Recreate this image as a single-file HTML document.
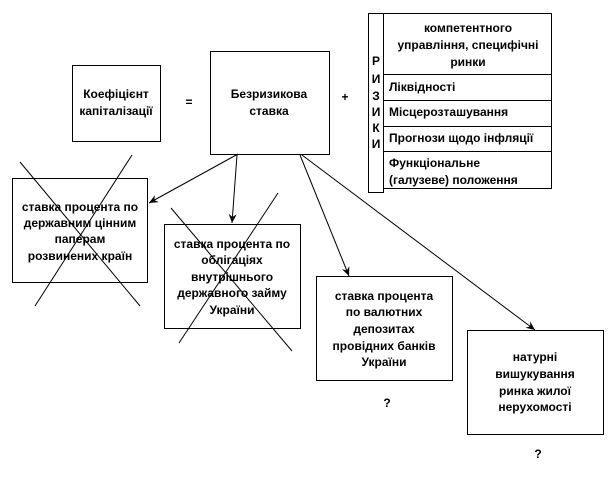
<!DOCTYPE html>
<html><head><meta charset="utf-8"><style>
html,body{margin:0;padding:0;background:#fff;}
svg{display:block;}
text{font-family:"Liberation Sans",Arial,sans-serif;font-weight:bold;font-size:12px;fill:#000;}
</style></head><body>
<svg width="612" height="477" viewBox="0 0 612 477" xmlns="http://www.w3.org/2000/svg">
<defs><marker id="a" markerWidth="10" markerHeight="10" refX="9" refY="5" orient="auto" markerUnits="userSpaceOnUse"><path d="M0,1 L9,5 L0,9 L3,5 Z" fill="#000"/></marker></defs>
<g fill="none" stroke="#000" stroke-width="1">
<rect x="72.5" y="65.5" width="88" height="76"/>
<rect x="210.5" y="51.5" width="119" height="103"/>
<rect x="368.5" y="13.5" width="15" height="179"/>
<rect x="383.5" y="13.5" width="168" height="175"/>
<line x1="384" y1="74.5" x2="552" y2="74.5"/>
<line x1="384" y1="100.5" x2="552" y2="100.5"/>
<line x1="384" y1="126.5" x2="552" y2="126.5"/>
<line x1="384" y1="151.5" x2="552" y2="151.5"/>
<rect x="12.5" y="178.5" width="135" height="104"/>
<rect x="164.5" y="224.5" width="136" height="104"/>
<rect x="316.5" y="276.5" width="136" height="104"/>
<rect x="467.5" y="330.5" width="136" height="104"/>
<line x1="20" y1="162" x2="140" y2="306"/>
<line x1="132" y1="155" x2="35" y2="306"/>
<line x1="171" y1="208" x2="292" y2="351"/>
<line x1="278" y1="193" x2="179" y2="343"/>
<line x1="238" y1="154" x2="149" y2="203" marker-end="url(#a)"/>
<line x1="237" y1="155" x2="232" y2="223" marker-end="url(#a)"/>
<line x1="300" y1="155" x2="349" y2="276" marker-end="url(#a)"/>
<line x1="302" y1="155" x2="535" y2="330" marker-end="url(#a)"/>
</g>
<g text-anchor="middle">
<text x="116" y="98">Коефіцієнт</text>
<text x="116" y="115">капіталізації</text>
<text x="189" y="106" font-weight="normal">=</text>
<text x="269" y="98">Безризикова</text>
<text x="269" y="115">ставка</text>
<text x="345" y="101" font-weight="normal">+</text>
<text x="376" y="65">Р</text><text x="376" y="83">И</text><text x="376" y="100">З</text>
<text x="376" y="116">И</text><text x="376" y="132">К</text><text x="376" y="148">И</text>
<text x="468" y="32">компетентного</text>
<text x="468" y="49">управління, специфічні</text>
<text x="468" y="66">ринки</text>
<text x="80" y="211">ставка процента по</text>
<text x="80" y="227">державним цінним</text>
<text x="80" y="243">паперам</text>
<text x="80" y="260">розвинених країн</text>
<text x="232" y="248">ставка процента по</text>
<text x="232" y="264">облігаціях</text>
<text x="232" y="281">внутрішнього</text>
<text x="232" y="297">державного займу</text>
<text x="232" y="314">України</text>
<text x="384" y="300">ставка процента</text>
<text x="384" y="316">по валютних</text>
<text x="384" y="333">депозитах</text>
<text x="384" y="350">провідних банків</text>
<text x="384" y="366">України</text>
<text x="535" y="361">натурні</text>
<text x="535" y="378">вишукування</text>
<text x="535" y="395">ринка жилої</text>
<text x="535" y="411">нерухомості</text>
<text x="387" y="407">?</text>
<text x="538" y="458">?</text>
</g>
<text x="389" y="91">Ліквідності</text>
<text x="389" y="116">Місцерозташування</text>
<text x="389" y="142">Прогнози щодо інфляції</text>
<text x="389" y="167">Функціональне</text>
<text x="389" y="184">(галузеве) положення</text>
</svg>
</body></html>
